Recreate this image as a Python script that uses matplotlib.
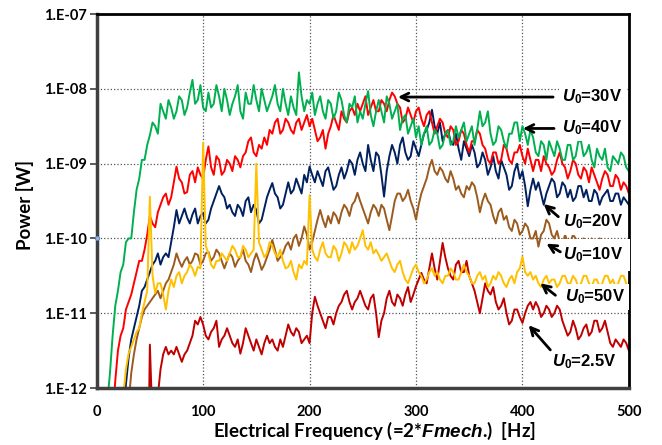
import numpy as np
import matplotlib
matplotlib.use('Agg')
import matplotlib.pyplot as plt
from matplotlib.ticker import NullLocator

plt.rcParams['font.family'] = ['Lato', 'DejaVu Sans']
plt.rcParams['mathtext.fontset'] = 'custom'
plt.rcParams['mathtext.it'] = 'Liberation Sans:italic:bold'
plt.rcParams['mathtext.rm'] = 'Liberation Sans:bold'

# frequency grid [Hz], 2.5 Hz steps (one row below = 25 Hz)
freq = np.linspace(0, 500, 201)

# log10 of power [W]
u40_log = [-14, -14, -13, -12.6, -12.2, -11.8, -11.3, -10.9, -10.7, -10.45,
           -10.35, -10.05, -10.0, -10.0, -9.65, -9.35, -9.2, -8.95, -8.95, -8.75,
           -8.62, -8.45, -8.5, -8.6, -8.2, -8.3, -8.4, -8.15, -8.25, -8.4,
           -8.3, -8.1, -8.15, -8.35, -8.25, -8.05, -7.88, -8.2, -8.15, -7.95,
           -8.25, -8.3, -8.05, -8.25, -8.2, -7.95, -8.1, -8.3, -8.0, -8.15,
           -8.35, -8.2, -8.1, -7.95, -8.3, -8.4, -8.05, -8.2, -8.2, -7.95,
           -8.15, -8.3, -8.0, -8.15, -8.3, -8.2, -8.1, -7.95, -8.2, -8.3,
           -8.0, -8.2, -8.35, -8.1, -8.25, -8.35, -7.78, -8.1, -8.3, -8.15,
           -8.2, -8.05, -8.35, -8.2, -8.1, -8.3, -8.4, -8.15, -8.2, -8.4,
           -8.3, -8.05, -8.15, -8.35, -8.45, -8.2, -8.25, -8.1, -8.45, -8.3,
           -8.4, -8.2, -8.03, -8.35, -8.5, -8.3, -8.15, -8.3, -8.45, -8.1,
           -8.2, -8.4, -8.3, -8.2, -8.55, -8.4, -8.35, -8.6, -8.5, -8.4,
           -8.65, -8.5, -8.75, -8.6, -8.5, -8.75, -8.7, -8.55, -8.6, -8.8,
           -8.75, -8.6, -8.55, -8.75, -8.7, -8.5, -8.65, -8.55, -8.45, -8.7,
           -8.6, -8.5, -8.75, -8.55, -8.3, -8.5, -8.45, -8.3, -8.6, -8.75,
           -8.7, -8.5, -8.55, -8.7, -8.8, -8.6, -8.6, -8.45, -8.45, -8.7,
           -8.5, -8.6, -8.75, -8.55, -8.65, -8.85, -8.9, -8.7, -8.75, -8.95,
           -8.7, -8.8, -8.9, -8.7, -8.8, -8.95, -8.95, -8.75, -8.75, -8.95,
           -8.9, -8.7, -8.7, -8.9, -8.85, -8.75, -8.95, -9.05, -8.8, -8.9,
           -8.95, -8.8, -9.05, -9.1, -8.9, -8.95, -9.0, -8.85, -8.9, -9.05,
           -9.1]

u30_log = [-14, -14, -14, -14, -13.5, -13, -12.4, -11.9, -11.5, -11.3,
           -11.2, -10.95, -10.85, -10.75, -10.6, -10.45, -10.3, -10.3, -10.15, -9.95,
           -9.7, -9.8, -9.85, -9.65, -9.55, -9.45, -9.4, -9.55, -9.45, -9.25,
           -9.04, -9.2, -9.25, -9.4, -9.38, -9.15, -9.1, -9.25, -9.05, -9.15,
           -9.2, -8.95, -8.77, -9.05, -9.15, -8.9, -8.95, -9.15, -9.1, -8.95,
           -9.0, -9.1, -8.9, -8.95, -9.05, -8.9, -8.85, -8.7, -8.65, -8.85,
           -8.9, -8.75, -8.8, -8.65, -8.75, -8.55, -8.6, -8.45, -8.4, -8.6,
           -8.55, -8.4, -8.45, -8.55, -8.6, -8.45, -8.4, -8.55, -8.45, -8.35,
           -8.5, -8.4, -8.55, -8.7, -8.65, -8.55, -8.8, -8.6, -8.5, -8.35,
           -8.45, -8.55, -8.3, -8.4, -8.45, -8.3, -8.25, -8.35, -8.2, -8.3,
           -8.2, -8.1, -8.35, -8.25, -8.15, -8.3, -8.3, -8.15, -8.2, -8.3,
           -8.15, -8.05, -8.1, -8.2, -8.25, -8.45, -8.4, -8.25, -8.35, -8.45,
           -8.3, -8.25, -8.4, -8.5, -8.35, -8.3, -8.45, -8.6, -8.5, -8.4,
           -8.45, -8.6, -8.65, -8.5, -8.55, -8.75, -8.7, -8.55, -8.6, -8.75,
           -8.85, -8.7, -8.7, -8.55, -8.6, -8.75, -8.8, -8.95, -9.0, -8.85,
           -8.85, -9.0, -8.95, -8.75, -8.8, -8.95, -9.0, -8.85, -8.85, -8.75,
           -8.9, -9.0, -8.8, -8.95, -9.1, -8.95, -8.95, -9.1, -8.9, -9.0,
           -9.05, -9.15, -9.1, -8.95, -8.85, -9.0, -9.05, -9.2, -9.1, -8.95,
           -9.0, -9.15, -9.2, -9.05, -9.1, -9.25, -9.05, -9.15, -9.25, -9.35,
           -9.2, -9.1, -9.15, -9.3, -9.3, -9.15, -9.2, -9.35, -9.25, -9.3,
           -9.4]

u20_log = [-14, -14, -14, -14, -14, -14, -14, -14, -14, -13.5,
           -12.6, -11.95, -11.6, -11.35, -11.2, -11.05, -10.9, -10.7, -10.65, -10.55,
           -10.45, -10.35, -10.3, -10.2, -10.35, -10.25, -10.2, -10.25, -10.05, -9.85,
           -9.62, -9.8, -9.7, -9.6, -9.72, -9.8, -9.68, -9.6, -9.8, -9.7,
           -9.66, -9.8, -9.75, -9.6, -9.5, -9.4, -9.3, -9.4, -9.45, -9.6,
           -9.55, -9.65, -9.7, -9.55, -9.6, -9.7, -9.5, -9.45, -9.65, -9.55,
           -9.62, -9.8, -9.75, -9.6, -9.45, -9.35, -9.26, -9.4, -9.45, -9.6,
           -9.55, -9.4, -9.25, -9.4, -9.35, -9.2, -9.3, -9.4, -9.15, -9.25,
           -9.04, -9.15, -9.25, -9.1, -9.2, -9.3, -9.1, -9.05, -9.2, -9.35,
           -9.3, -9.15, -9.05, -9.2, -9.1, -8.95, -9.0, -9.15, -8.95, -8.85,
           -9.0, -9.1, -8.75, -8.95, -9.1, -8.85, -8.9, -9.15, -9.44, -9.1,
           -8.9, -8.75, -8.85, -9.0, -8.75, -8.65, -8.85, -8.95, -8.9, -8.7,
           -8.8, -8.9, -8.75, -8.6, -8.55, -8.45, -8.28, -8.5, -8.6, -8.45,
           -8.7, -8.6, -8.55, -8.7, -8.75, -8.6, -8.8, -8.95, -8.7, -8.8,
           -8.9, -8.75, -8.85, -9.05, -9.0, -8.85, -8.95, -9.15, -9.05, -8.9,
           -9.1, -9.2, -8.95, -9.05, -9.15, -9.35, -9.3, -9.1, -9.0, -9.2,
           -9.1, -9.3, -9.57, -9.35, -9.2, -9.35, -9.25, -9.4, -9.55, -9.4,
           -9.3, -9.2, -9.25, -9.45, -9.4, -9.25, -9.3, -9.45, -9.35, -9.5,
           -9.45, -9.3, -9.3, -9.45, -9.35, -9.5, -9.5, -9.35, -9.4, -9.55,
           -9.45, -9.4, -9.35, -9.5, -9.5, -9.4, -9.4, -9.55, -9.45, -9.5,
           -9.55]

u10_log = [-14, -14, -14, -14, -14, -14, -14, -14, -14, -14,
           -13.5, -12.8, -12.2, -11.8, -11.55, -11.35, -11.2, -11.05, -10.95, -10.9,
           -10.85, -10.8, -10.75, -10.7, -10.8, -10.7, -10.6, -10.55, -10.45, -10.35,
           -10.2, -10.3, -10.38, -10.3, -10.25, -10.35, -10.3, -10.2, -10.22, -10.35,
           -10.3, -10.2, -10.18, -10.3, -10.25, -10.15, -10.2, -10.3, -10.4, -10.3,
           -10.2, -10.25, -10.38, -10.3, -10.25, -10.15, -10.3, -10.35, -10.45, -10.3,
           -10.2, -10.3, -10.42, -10.35, -10.25, -10.15, -10.02, -10.15, -10.3, -10.25,
           -10.2, -10.1, -10.05, -10.15, -10.0, -9.95, -10.1, -10.0, -9.84, -9.95,
           -10.15, -10.05, -9.9, -9.75, -9.62, -9.75, -9.85, -9.7, -9.8, -9.65,
           -9.7, -9.8, -9.65, -9.55, -9.6, -9.7, -9.55, -9.5, -9.39, -9.5,
           -9.6, -9.7, -9.8, -9.65, -9.55, -9.6, -9.7, -9.55, -9.6, -9.75,
           -9.89, -9.7, -9.5, -9.4, -9.4, -9.5, -9.45, -9.35, -9.5, -9.6,
           -9.75, -9.55, -9.4, -9.3, -9.2, -9.05, -8.95, -9.1, -9.15, -9.05,
           -9.1, -9.2, -9.25, -9.1, -9.2, -9.35, -9.3, -9.4, -9.45, -9.3,
           -9.35, -9.25, -9.3, -9.45, -9.65, -9.5, -9.4, -9.5, -9.55, -9.7,
           -9.8, -9.65, -9.6, -9.75, -9.7, -9.85, -9.9, -9.75, -9.8, -9.95,
           -9.9, -9.8, -9.85, -10.0, -10.0, -9.9, -10.11, -9.95, -9.9, -9.75,
           -9.8, -9.95, -10.0, -9.9, -10.05, -10.1, -9.95, -10.05, -10.05, -9.95,
           -10.0, -10.1, -10.1, -10.0, -10.05, -10.15, -10.0, -10.05, -10.1, -10.0,
           -10.05, -10.15, -10.15, -10.05, -10.1, -10.2, -10.15, -10.05, -10.1, -10.2,
           -10.15]

u50_log = [-14, -14, -14, -14, -14, -14, -14, -14, -14, -13,
           -12.1, -11.75, -11.54, -11.45, -11.35, -11.25, -11.2, -11.0, -10.85, -10.7,
           -9.44, -10.5, -10.73, -10.6, -10.6, -10.75, -10.95, -10.7, -10.55, -10.65,
           -10.5, -10.45, -10.6, -10.5, -10.45, -10.35, -10.4, -10.5, -10.38, -10.4,
           -8.72, -10.1, -10.2, -10.35, -10.4, -10.3, -10.3, -10.2, -10.25, -10.3,
           -10.2, -10.1, -10.15, -10.25, -10.25, -10.1, -10.15, -10.25, -10.2, -10.15,
           -9.0, -10.05, -10.15, -10.25, -10.2, -10.05, -10.1, -10.2, -10.25, -10.15,
           -10.3, -10.4, -10.38, -10.3, -10.45, -10.55, -10.35, -10.4, -10.3, -10.35,
           -9.42, -10.15, -10.25, -10.3, -10.15, -10.05, -10.2, -10.25, -10.25, -10.1,
           -10.15, -10.3, -10.2, -10.05, -10.1, -10.2, -10.05, -10.15, -10.1, -10.0,
           -9.89, -10.1, -10.15, -10.05, -10.2, -10.15, -10.22, -10.3, -10.25, -10.2,
           -10.3, -10.4, -10.45, -10.35, -10.3, -10.45, -10.55, -10.6, -10.5, -10.4,
           -10.35, -10.45, -10.5, -10.6, -10.55, -10.45, -10.4, -10.5, -10.45, -10.55,
           -10.6, -10.5, -10.5, -10.4, -10.45, -10.55, -10.55, -10.45, -10.35, -10.45,
           -10.5, -10.6, -10.6, -10.5, -10.45, -10.55, -10.5, -10.65, -10.6, -10.5,
           -10.55, -10.45, -10.5, -10.6, -10.65, -10.55, -10.5, -10.6, -10.45, -10.4,
           -10.24, -10.45, -10.5, -10.45, -10.55, -10.5, -10.6, -10.65, -10.55, -10.5,
           -10.6, -10.55, -10.55, -10.65, -10.6, -10.5, -10.5, -10.6, -10.6, -10.5,
           -10.55, -10.65, -10.6, -10.5, -10.5, -10.6, -10.65, -10.55, -10.55, -10.65,
           -10.6, -10.5, -10.5, -10.6, -10.55, -10.65, -10.6, -10.5, -10.5, -10.6,
           -10.65]

u2p5_log = [-14, -14, -14, -14, -14, -14, -14, -14, -14, -14,
            -14, -14, -14, -14, -14, -14, -14, -14, -14, -14,
            -11.42, -12.5, -12.3, -12.1, -11.75, -11.55, -11.45, -11.55, -11.5, -11.55,
            -11.45, -11.55, -11.65, -11.55, -11.5, -11.4, -11.3, -11.1, -11.15, -11.05,
            -11.15, -11.3, -11.35, -11.25, -11.2, -11.1, -11.45, -11.35, -11.3, -11.2,
            -11.3, -11.4, -11.45, -11.35, -11.54, -11.4, -11.2, -11.3, -11.4, -11.5,
            -11.35, -11.45, -11.55, -11.4, -11.3, -11.4, -11.35, -11.45, -11.5, -11.35,
            -11.45, -11.3, -11.15, -11.25, -11.3, -11.2, -11.25, -11.4, -11.35, -11.3,
            -11.4, -11.0, -10.78, -10.9, -11.0, -11.1, -11.2, -11.05, -11.05, -11.15,
            -11.0, -10.9, -10.85, -10.75, -10.7, -10.85, -10.95, -10.85, -10.8, -10.7,
            -10.8, -10.9, -10.95, -10.8, -10.75, -11.0, -11.32, -11.1, -11.0, -10.8,
            -10.7, -10.85, -10.9, -10.75, -10.8, -10.9, -10.75, -10.65, -10.85, -10.75,
            -10.64, -10.55, -10.46, -10.55, -10.6, -10.4, -10.2, -10.4, -10.55, -10.3,
            -10.06, -10.25, -10.4, -10.5, -10.55, -10.35, -10.3, -10.45, -10.45, -10.3,
            -10.5, -10.6, -10.7, -10.85, -11.0, -10.8, -10.6, -10.7, -10.75, -10.65,
            -10.85, -10.95, -10.9, -10.8, -11.0, -11.15, -11.1, -10.95, -10.95, -11.05,
            -11.13, -11.0, -10.9, -10.85, -10.95, -10.85, -10.92, -11.05, -11.0, -10.9,
            -10.95, -11.05, -11.0, -10.9, -10.95, -11.1, -11.2, -11.3, -11.25, -11.1,
            -11.2, -11.35, -11.3, -11.2, -11.15, -11.3, -11.25, -11.1, -11.1, -11.25,
            -11.2, -11.1, -11.25, -11.4, -11.45, -11.35, -11.4, -11.45, -11.35, -11.4,
            -11.5]

y_ticks = [1e-12, 1e-11, 1e-10, 1e-9, 1e-8, 1e-7]
y_ticklabels = ['1.E-12', '1.E-11', '1.E-10', '1.E-09', '1.E-08', '1.E-07']
x_ticks = [0, 100, 200, 300, 400, 500]

fig = plt.figure(figsize=(6.62, 4.45), dpi=100)
ax = fig.add_axes([0.146, 0.128, 0.804, 0.8405])

ax.plot(freq, 10.0 ** np.array(u2p5_log), color='#C00000', lw=1.4)
ax.plot(freq, 10.0 ** np.array(u10_log), color='#9C5B1E', lw=1.4)
ax.plot(freq, 10.0 ** np.array(u20_log), color='#002060', lw=1.4)
ax.plot(freq, 10.0 ** np.array(u30_log), color='#FF0000', lw=1.4)
ax.plot(freq, 10.0 ** np.array(u40_log), color='#00B050', lw=1.4)
ax.plot(freq, 10.0 ** np.array(u50_log), color='#FFC000', lw=1.4)
ax.plot([0], [1e-10], marker='o', ms=3, mfc='#9DB7DA', mec='#4F81BD', mew=0.6, clip_on=False, zorder=5)

ax.set_yscale('log')
ax.set_xlim(0, 500)
ax.set_ylim(1e-12, 1e-7)
ax.set_yticks(y_ticks)
ax.set_yticklabels(y_ticklabels)
ax.yaxis.set_minor_locator(NullLocator())
ax.set_xticks(x_ticks)
ax.tick_params(axis='y', length=5, width=1.2, color='#404040', pad=2, labelsize=10.5)
ax.tick_params(axis='x', length=0, pad=12, labelsize=10.5)
for lab in ax.get_xticklabels() + ax.get_yticklabels():
    lab.set_fontweight('bold')

ax.grid(True, linestyle=':', color='#555555', lw=0.9)
ax.set_axisbelow(True)
for side in ['left', 'bottom']:
    ax.spines[side].set_color('#404040')
    ax.spines[side].set_linewidth(2.5)
for side in ['top', 'right']:
    ax.spines[side].set_color('black')
    ax.spines[side].set_linewidth(2)

ax.set_xlabel(r'Electrical Frequency (=2*$\mathit{Fmech}$.)  [Hz]', fontsize=13.5, fontweight='bold')
ax.set_ylabel('Power [W]', fontsize=13.5, fontweight='bold')
ax.xaxis.set_label_coords(0.523, -0.085)
ax.yaxis.set_label_coords(-0.117, 0.49)

# curve labels: text (left x, log10 y), arrow tail/head, box padding
labels = [
    (r'$U_{\mathit{0}}$=30V', (437.5, -8.11), (428.8, -8.11), (283.0, -8.11), 2.5),
    (r'$U_{\mathit{0}}$=40V', (437.5, -8.52), (429.7, -8.53), (400.5, -8.53), 2.5),
    (r'$U_{\mathit{0}}$=20V', (438.4, -9.78), (433.7, -9.71), (419.9, -9.54), 2.5),
    (r'$U_{\mathit{0}}$=10V', (438.4, -10.22), (435.6, -10.18), (422.5, -10.07), 4.5),
    (r'$U_{\mathit{0}}$=50V', (440.3, -10.78), (431.0, -10.76), (416.8, -10.6), 2.5),
    (r'$U_{\mathit{0}}$=2.5V', (428.0, -11.65), (426.2, -11.49), (405.8, -11.16), 2.0),
]
for txt, pos, tail, head, pad in labels:
    ax.text(pos[0], 10 ** pos[1], txt, fontsize=12, fontweight='bold', family='Liberation Sans',
            ha='left', va='center', zorder=6,
            bbox=dict(facecolor='white', edgecolor='none', pad=pad))
    ax.annotate('', xy=(head[0], 10 ** head[1]), xytext=(tail[0], 10 ** tail[1]),
                arrowprops=dict(arrowstyle='->', lw=2, color='black', mutation_scale=14,
                                shrinkA=0, shrinkB=0), zorder=7)

fig.savefig('out.png', dpi=100)
